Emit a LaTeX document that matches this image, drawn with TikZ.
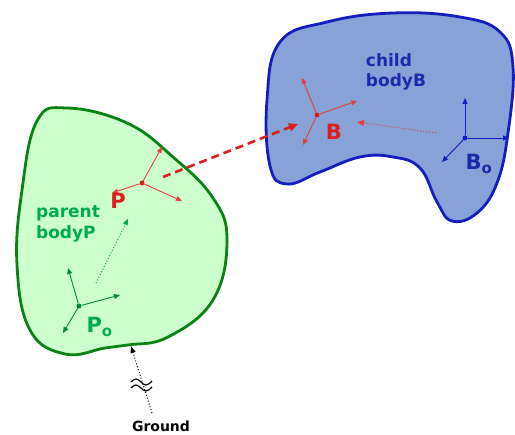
\documentclass[tikz,border=0pt]{standalone}
\usepackage{fontspec}
\setmainfont{DejaVu Sans}
\usetikzlibrary{arrows.meta, positioning, calc}
\definecolor{colGreenFill}{RGB}{204,255,204}
\definecolor{colGreenLine}{RGB}{10,130,20}
\definecolor{colGreenText}{RGB}{0,170,80}
\definecolor{colBlueFill}{RGB}{134,162,214}
\definecolor{colBlueLine}{RGB}{20,30,190}
\definecolor{colBlueText}{RGB}{30,40,170}
\definecolor{colRed}{RGB}{220,30,30}
\newcommand{\fsz}[1]{\fontsize{#1}{#1}\selectfont}

\begin{document}
\begin{tikzpicture}[x=1pt, y=-1pt,
    every node/.style={font=\bfseries},
    axis/.style={-{Triangle[length=6pt,width=5pt]}, line width=0.9pt},
    origin/.style={circle, fill, inner sep=0pt, minimum size=5pt}]
    \useasboundingbox (0,0) rectangle (515,435);

    % Parent body P (green)
    \draw[colGreenLine, fill=colGreenFill, line width=2.8pt]
        plot[smooth cycle, tension=0.7] coordinates {(67,108) (37,121) (22,190) (17,265) (30,330) (65,354) (105,348) (128,345) (168,337) (213,300) (227,240) (213,198) (173,157) (127,123)};

    % Child body B (blue)
    \draw[colBlueLine, fill=colBlueFill, line width=2.8pt]
        plot[smooth cycle, tension=0.7] coordinates {(280,42) (327,22) (393,13) (460,17) (500,32) (513,67) (508,133) (497,183) (477,213) (452,221) (437,202) (420,168) (393,157) (360,157) (320,172) (287,184) (270,166) (267,100)};

    % Frame Po
    \node[origin, colGreenText!80!black] (Po) at (79,306) {};
    \coordinate (pa) at (68,268);
    \coordinate (pb) at (120,295);
    \coordinate (pc) at (63,333);
    \foreach \ax in {pa,pb,pc} \draw[axis, colGreenText!80!black] (Po) -- (\ax);
    \node[colGreenText, font=\bfseries\fsz{21}, anchor=base west] (PoLbl) at (83,333) {P\raisebox{-0.3ex}{\fsz{15}o}};

    % Frame P
    \node[origin, colRed] (P) at (142,183) {};
    \coordinate (qa) at (162,147);
    \coordinate (qb) at (112,193);
    \coordinate (qc) at (182,201);
    \foreach \ax in {qa,qb,qc} \draw[axis, colRed!85] (P) -- (\ax);
    \node[colRed, font=\bfseries\fsz{21}] (PLbl) at (118,201) {P};

    % Frame B
    \node[origin, colRed] (B) at (317,115) {};
    \coordinate (ra) at (302,78);
    \coordinate (rb) at (357,101);
    \coordinate (rc) at (303,145);
    \foreach \ax in {ra,rb,rc} \draw[axis, colRed!85] (B) -- (\ax);
    \node[colRed, font=\bfseries\fsz{21}] (BLbl) at (334,132) {B};

    % Frame Bo
    \node[origin, colBlueLine] (Bo) at (465,138) {};
    \coordinate (sa) at (465,98);
    \coordinate (sb) at (509,138);
    \coordinate (sc) at (442,162);
    \foreach \ax in {sa,sb,sc} \draw[axis, colBlueLine] (Bo) -- (\ax);
    \node[colBlueText, font=\bfseries\fsz{21}, anchor=base west] (BoLbl) at (462,170) {B\raisebox{-0.3ex}{\fsz{15}o}};

    % Body names
    \node[colGreenText, align=left, font=\bfseries\fontsize{17}{21}\selectfont] (parentLbl) at (68,224) {parent\\bodyP};
    \node[colBlueText, align=left, font=\bfseries\fontsize{17}{20}\selectfont] (childLbl) at (396,72) {child\\bodyB};

    % Position vectors (dotted)
    \coordinate (gs) at (96,283);
    \coordinate (ge) at (128,219);
    \draw[colGreenText, dotted, line width=1pt, -{Triangle[length=6pt,width=5pt]}] (gs) -- (ge);
    \coordinate (bs) at (436,133);
    \coordinate (be) at (357,122);
    \draw[colRed!85, dotted, line width=1pt, -{Triangle[length=7pt,width=6pt]}] (bs) -- (be);

    % Joint P -> B (dashed)
    \coordinate (js) at (163,177);
    \coordinate (je) at (298,124);
    \draw[colRed, line width=2.6pt, dash pattern=on 8pt off 5pt, -{Triangle[length=9pt,width=8pt]}] (js) -- (je);

    % Ground
    \node[black, font=\bfseries\fsz{14}, inner sep=0pt, anchor=base] (ground) at (161,432) {Ground};
    \coordinate (gbase) at (152,413);
    \coordinate (gtip) at (131,346);
    \draw[black, dotted, line width=1pt, -{Triangle[length=7pt,width=5pt]}] (gbase) -- (gtip);
    \draw[black, line width=1.2pt] (131,382) sin (136,379) cos (141,382) sin (146,385) cos (152,381);
    \draw[black, line width=1.2pt] (131,388) sin (136,385) cos (141,388) sin (146,391) cos (152,387);
\end{tikzpicture}
\end{document}
